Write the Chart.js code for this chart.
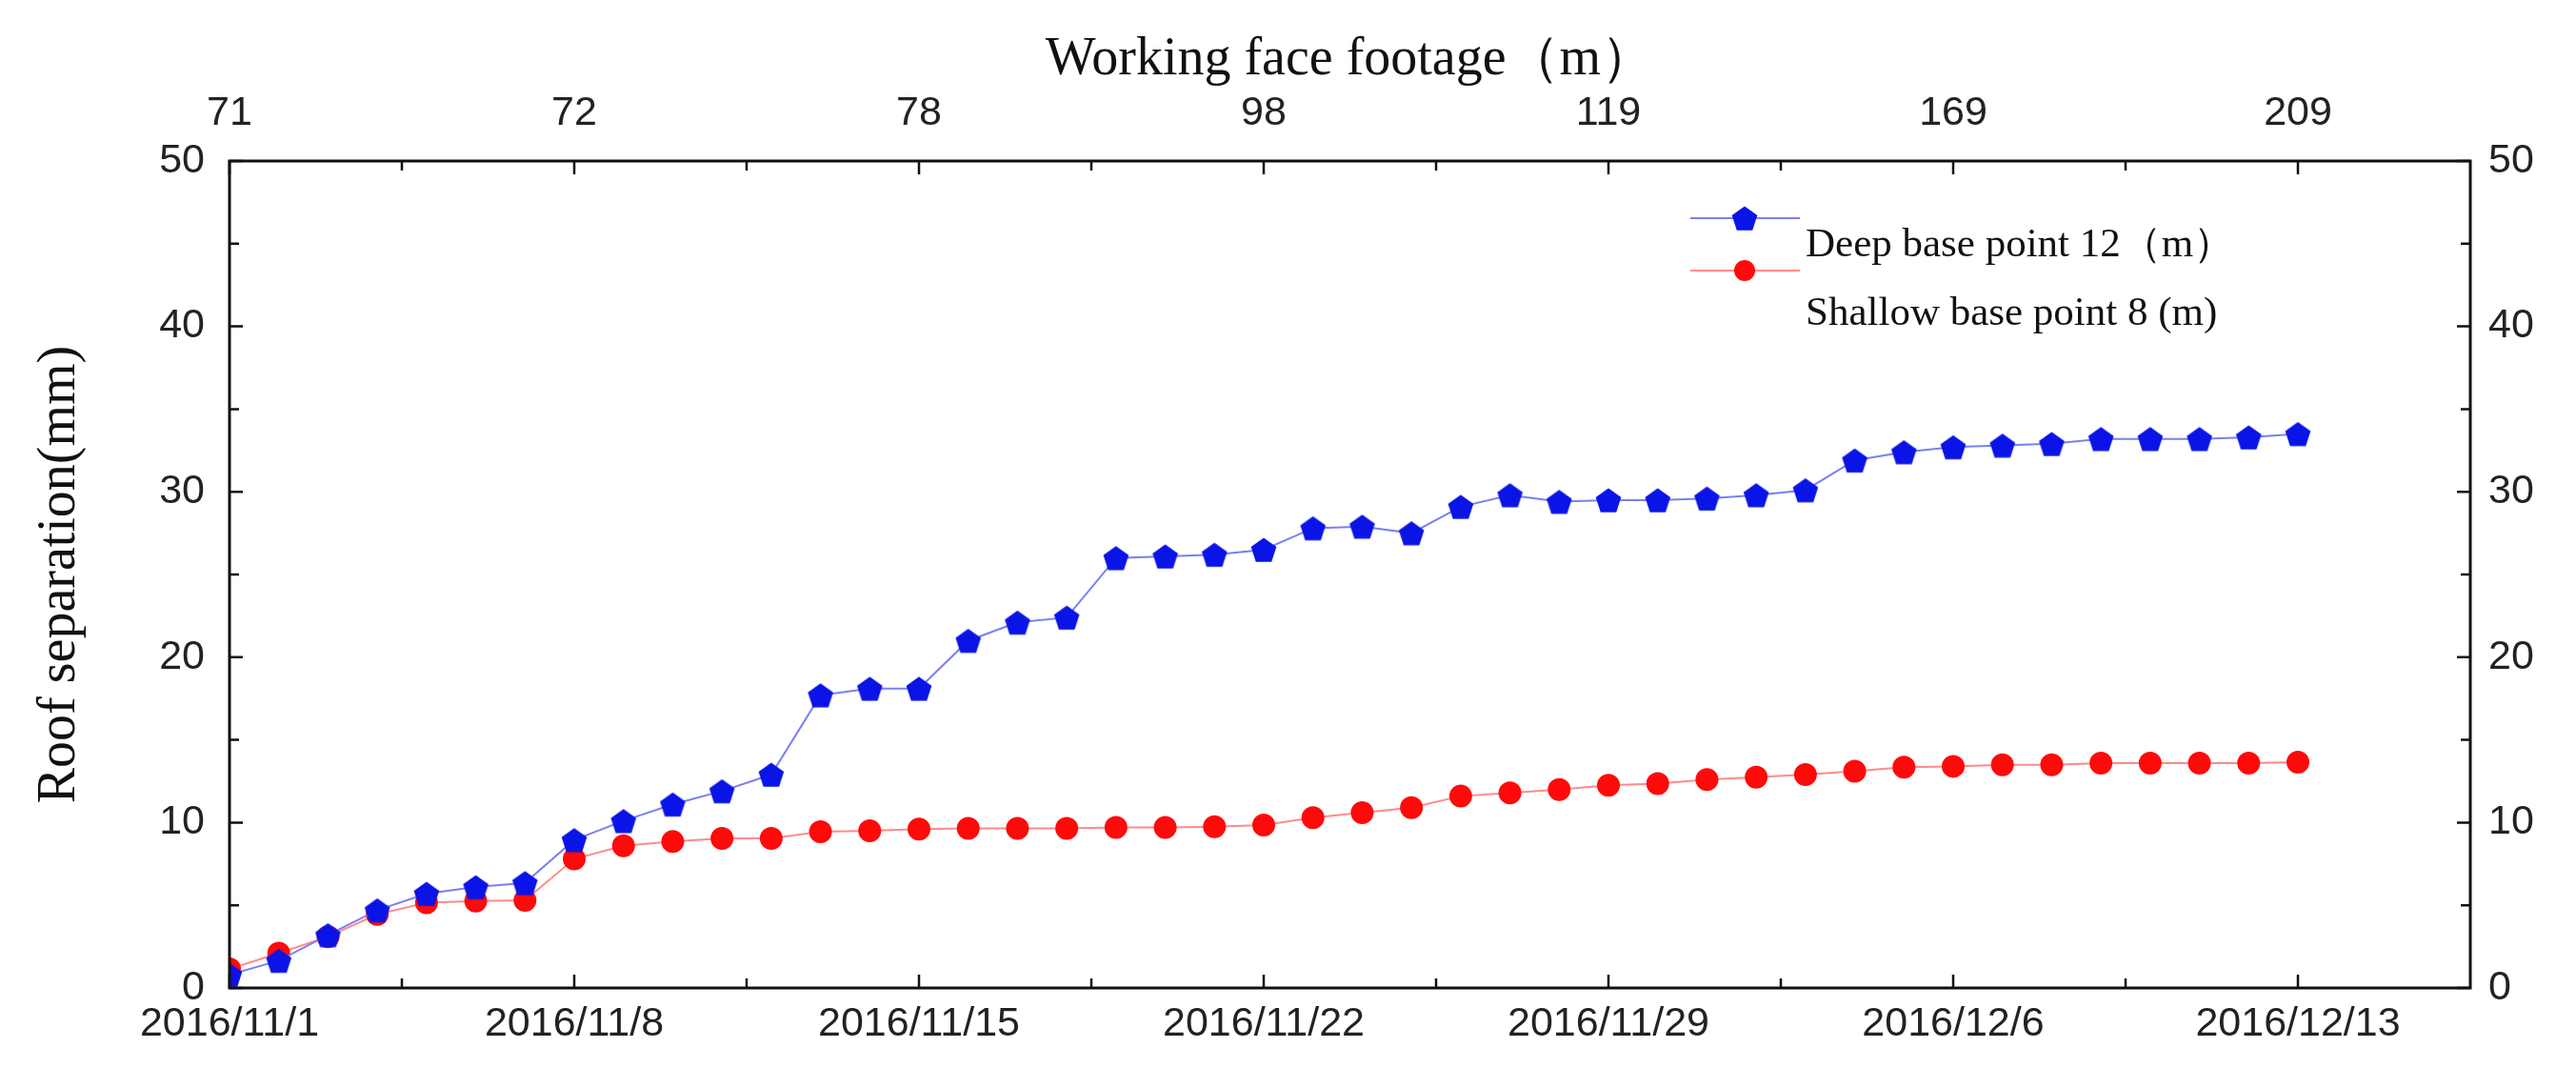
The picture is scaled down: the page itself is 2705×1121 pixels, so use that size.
<!DOCTYPE html>
<html>
<head>
<meta charset="utf-8">
<script src="https://cdn.jsdelivr.net/npm/chart.js@4.4.1/dist/chart.umd.min.js"></script>
<style>
  html, body { margin: 0; padding: 0; background: #fff; }
  #wrap { width: 2705px; height: 1121px; }
</style>
</head>
<body>
<div id="wrap"><canvas id="c" width="2705" height="1121"></canvas></div>
<script>
// ── data ──
const dayLabels = { 0: '2016/11/1', 7: '2016/11/8', 14: '2016/11/15', 21: '2016/11/22', 28: '2016/11/29', 35: '2016/12/6', 42: '2016/12/13' };
const footageLabels = { 0: '71', 7: '72', 14: '78', 21: '98', 28: '119', 35: '169', 42: '209' };
const deepValues = [0.8, 1.65, 3.2, 4.7, 5.7, 6.1, 6.35, 8.95, 10.1, 11.1, 11.9, 12.9, 17.7, 18.1, 18.1,
  21.0, 22.1, 22.4, 26.0, 26.1, 26.2, 26.5, 27.8, 27.9, 27.5, 29.1, 29.8, 29.4, 29.5, 29.5, 29.6,
  29.8, 30.1, 31.9, 32.4, 32.7, 32.8, 32.9, 33.2, 33.2, 33.2, 33.3, 33.5];
const shallowValues = [1.15, 2.1, 3.1, 4.45, 5.15, 5.25, 5.3, 7.8, 8.6, 8.85, 9.05, 9.05, 9.45, 9.5, 9.6,
  9.65, 9.65, 9.65, 9.7, 9.7, 9.75, 9.85, 10.3, 10.6, 10.9, 11.6, 11.8, 12.0, 12.25, 12.35, 12.6,
  12.75, 12.9, 13.1, 13.35, 13.4, 13.5, 13.5, 13.6, 13.6, 13.6, 13.6, 13.65];
const seriesNames = ['Deep base point 12（m）', 'Shallow base point 8 (m)'];

const toPoints = vals => vals.map((v, i) => ({ x: i, y: v }));

// pentagon marker
function pentagon(r, color) {
  const cv = document.createElement('canvas');
  cv.width = cv.height = 2 * r + 2;
  const g = cv.getContext('2d');
  g.beginPath();
  for (let k = 0; k < 5; k++) {
    const a = -Math.PI / 2 + k * 2 * Math.PI / 5;
    const px = r + 1 + r * Math.cos(a), py = r + 1 + r * Math.sin(a) + r * 0.1;
    k ? g.lineTo(px, py) : g.moveTo(px, py);
  }
  g.closePath();
  g.fillStyle = color; g.fill();
  return cv;
}
const bluePent = pentagon(14, '#0a14e6');

const tickFont = { family: 'Liberation Sans', size: 43 };
const serif = 'Liberation Serif';

// inward ticks + frame + legend
const framePlugin = {
  id: 'frame',
  afterDatasetsDraw(chart) {
    const { ctx, chartArea: { left, right, top, bottom }, scales } = chart;
    ctx.save();
    ctx.strokeStyle = '#111'; ctx.lineWidth = 3;
    ctx.strokeRect(left, top, right - left, bottom - top);
    ctx.lineWidth = 2.5;
    for (let d = 0; d <= 45; d += 3.5) {
      const x = scales.x.getPixelForValue(d);
      const len = d % 7 === 0 ? 14 : 10;
      ctx.beginPath();
      ctx.moveTo(x, bottom); ctx.lineTo(x, bottom - len);
      ctx.moveTo(x, top); ctx.lineTo(x, top + len);
      ctx.stroke();
    }
    for (let v = 0; v <= 50; v += 5) {
      const y = scales.y.getPixelForValue(v);
      const len = v % 10 === 0 ? 14 : 10;
      ctx.beginPath();
      ctx.moveTo(left, y); ctx.lineTo(left + len, y);
      ctx.moveTo(right, y); ctx.lineTo(right - len, y);
      ctx.stroke();
    }
    // legend
    const rows = [229, 284];
    chart.data.datasets.forEach((ds, i) => {
      const y = rows[i];
      ctx.strokeStyle = ds.borderColor; ctx.lineWidth = 2;
      ctx.beginPath(); ctx.moveTo(1775, y); ctx.lineTo(1890, y); ctx.stroke();
      if (i === 0) {
        ctx.drawImage(bluePent, 1832 - 15, y - 15);
      } else {
        ctx.fillStyle = ds.pointBackgroundColor;
        ctx.beginPath(); ctx.arc(1832, y, 11, 0, Math.PI * 2); ctx.fill();
      }
    });
    ctx.fillStyle = '#111';
    ctx.font = '43px ' + serif;
    ctx.textBaseline = 'middle';
    ctx.fillText(seriesNames[0], 1896, 258);
    ctx.fillText(seriesNames[1], 1896, 330);
    ctx.restore();
  }
};

new Chart(document.getElementById('c'), {
  type: 'line',
  data: {
    datasets: [
      {
        label: seriesNames[0], data: toPoints(deepValues),
        borderColor: '#7a80f0', borderWidth: 2,
        pointStyle: bluePent, pointBackgroundColor: '#0a14e6', pointRadius: 14
      },
      {
        label: seriesNames[1], data: toPoints(shallowValues),
        borderColor: '#ff8a8a', borderWidth: 2,
        pointStyle: 'circle', pointBackgroundColor: '#ff0a0a', pointBorderColor: '#ff0a0a', pointRadius: 11
      }
    ]
  },
  options: {
    responsive: false, animation: false, devicePixelRatio: 1,
    layout: { padding: 0 },
    plugins: { legend: { display: false }, tooltip: { enabled: false } },
    scales: {
      x: {
        type: 'linear', position: 'bottom', min: 0, max: 45.5,
        afterBuildTicks: s => { s.ticks = Object.keys(dayLabels).map(v => ({ value: +v })); },
        afterFit: s => { s.height = 84; },
        grid: { display: false, drawTicks: false }, border: { display: false },
        ticks: { font: tickFont, color: '#222', padding: 12, maxRotation: 0, autoSkip: false,
                 callback: v => dayLabels[v] || '' }
      },
      x2: {
        type: 'linear', position: 'top', min: 0, max: 45.5,
        afterBuildTicks: s => { s.ticks = Object.keys(footageLabels).map(v => ({ value: +v })); },
        afterFit: s => { s.height = 169; },
        grid: { display: false, drawTicks: false }, border: { display: false },
        title: { display: true, text: 'Working face footage（m）', color: '#111',
                 font: { family: serif, size: 56 }, padding: { top: 30, bottom: 0 } },
        ticks: { font: tickFont, color: '#222', padding: 24, maxRotation: 0, autoSkip: false,
                 callback: v => footageLabels[v] || '' }
      },
      y: {
        position: 'left', min: 0, max: 50,
        afterFit: s => { s.width = 241; },
        grid: { display: false, drawTicks: false }, border: { display: false },
        title: { display: true, text: 'Roof separation(mm)', color: '#111',
                 font: { family: serif, size: 56 }, padding: { top: 30, bottom: 0 } },
        ticks: { font: tickFont, color: '#222', padding: 26, stepSize: 10 }
      },
      y2: {
        position: 'right', min: 0, max: 50,
        afterFit: s => { s.width = 111; },
        grid: { display: false, drawTicks: false }, border: { display: false },
        ticks: { font: tickFont, color: '#222', padding: 19, stepSize: 10 }
      }
    }
  },
  plugins: [framePlugin]
});
</script>
</body>
</html>
